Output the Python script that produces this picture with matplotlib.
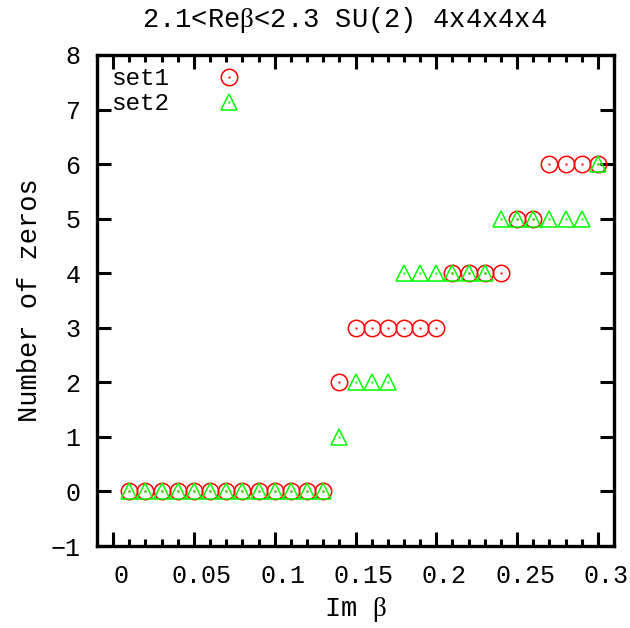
import matplotlib
matplotlib.use("Agg")
import matplotlib.pyplot as plt
import matplotlib.transforms as mtransforms
from matplotlib.lines import Line2D
from matplotlib.ticker import MultipleLocator

plt.rcParams['font.family'] = ['Liberation Mono', 'DejaVu Sans']
plt.rcParams['mathtext.fontset'] = 'custom'
plt.rcParams['mathtext.rm'] = 'Liberation Serif'
plt.rcParams['mathtext.it'] = 'Liberation Serif'

# data
im_beta = [0.01, 0.02, 0.03, 0.04, 0.05, 0.06, 0.07, 0.08, 0.09, 0.10,
           0.11, 0.12, 0.13, 0.14, 0.15, 0.16, 0.17, 0.18, 0.19, 0.20,
           0.21, 0.22, 0.23, 0.24, 0.25, 0.26, 0.27, 0.28, 0.29, 0.30]
set1 = [0, 0, 0, 0, 0, 0, 0, 0, 0, 0, 0, 0, 0, 2, 3, 3, 3, 3, 3, 3,
        4, 4, 4, 4, 5, 5, 6, 6, 6, 6]
set2 = [0, 0, 0, 0, 0, 0, 0, 0, 0, 0, 0, 0, 0, 1, 2, 2, 2, 4, 4, 4,
        4, 4, 4, 5, 5, 5, 5, 5, 5, 6]
labels = ['set1', 'set2']
xticks = [0, 0.05, 0.1, 0.15, 0.2, 0.25, 0.3]
xticklabels = ['0', '0.05', '0.1', '0.15', '0.2', '0.25', '0.3']
yticks = [-1, 0, 1, 2, 3, 4, 5, 6, 7, 8]
yticklabels = ['\u22121', '0', '1', '2', '3', '4', '5', '6', '7', '8']
title = r'2.1<Re$\mathrm{\beta}$<2.3 SU(2) 4x4x4x4'
xlabel = r'Im $\mathrm{\beta}$'
ylabel = 'Number of zeros'

RED = '#ff0000'
GREEN = '#00ff00'
FS_TICK = 18
FS = 19.5
FS_LEG = 17.5
MS = 11.8

fig = plt.figure(figsize=(6.30, 6.28), dpi=100)
ax = fig.add_axes([97/630, 1-546/628, 517/630, 491/628])

ax.plot(im_beta, set1, linestyle='none', marker='o', ms=MS, mfc='none',
        mec=RED, mew=1.1)
ax.plot(im_beta, set1, linestyle='none', marker='s', ms=1.4, mfc=RED, mec=RED, mew=0)
ax.plot(im_beta, set2, linestyle='none', marker='^', ms=MS, mfc='none',
        mec=GREEN, mew=1.1)
ax.plot(im_beta, set2, linestyle='none', marker='s', ms=1.4, mfc=GREEN, mec=GREEN, mew=0)

ax.set_xlim(-0.01, 0.31)
ax.set_ylim(-1, 8)
ax.set_xticks(xticks)
ax.set_xticklabels(xticklabels)
ax.xaxis.set_minor_locator(MultipleLocator(0.01))
ax.set_yticks(yticks)
ax.set_yticklabels(yticklabels)
ax.tick_params(which='both', direction='in', top=True, right=True, width=2.2,
               labelsize=FS_TICK)
ax.tick_params(axis='x', pad=13)
ax.tick_params(axis='y', pad=12)
ax.tick_params(which='major', length=10)
ax.tick_params(which='minor', length=5)
for s in ax.spines.values():
    s.set_linewidth(2.4)

offset = mtransforms.ScaledTranslation(8/100, 0, fig.dpi_scale_trans)
for lab in ax.get_xticklabels():
    lab.set_transform(lab.get_transform() + offset)

ax.set_title(title, fontsize=FS, pad=20, x=0.478)
ax.set_xlabel(xlabel, fontsize=FS, labelpad=5)
ax.set_ylabel(ylabel, fontsize=FS, labelpad=5)

h1 = (Line2D([], [], ls='none', marker='o', ms=MS, mfc='none', mec=RED, mew=1.1),
      Line2D([], [], ls='none', marker='s', ms=1.4, mfc=RED, mec=RED, mew=0))
h2 = (Line2D([], [], ls='none', marker='^', ms=MS, mfc='none', mec=GREEN, mew=1.1),
      Line2D([], [], ls='none', marker='s', ms=1.4, mfc=GREEN, mec=GREEN, mew=0))
ax.legend([h1, h2], labels, loc='upper left', bbox_to_anchor=(0.028, 0.975),
          frameon=False, markerfirst=False, fontsize=FS_LEG, handlelength=2,
          handletextpad=1.43, borderpad=0, borderaxespad=0, labelspacing=0.08)

fig.savefig('out.png', dpi=100)
